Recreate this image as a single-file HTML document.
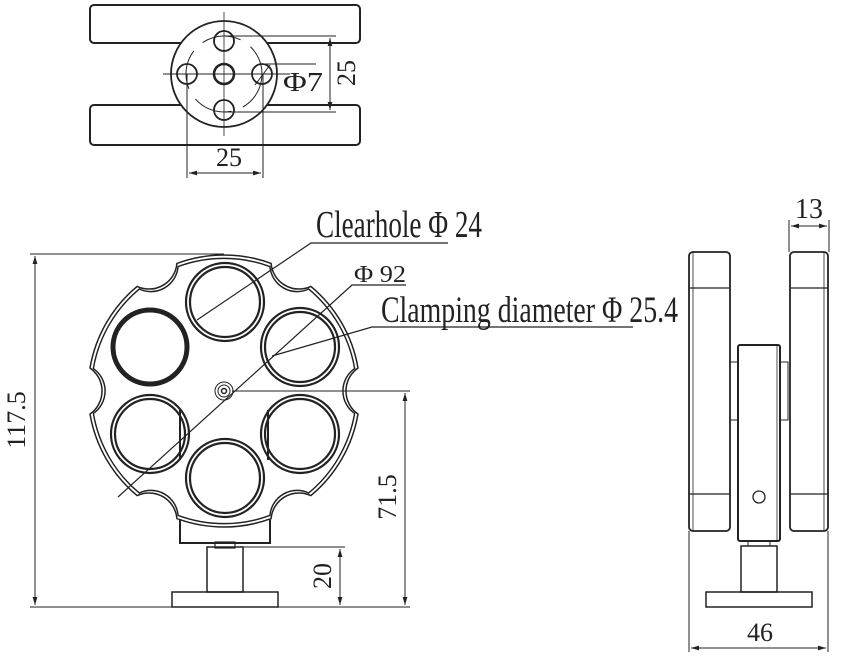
<!DOCTYPE html>
<html><head><meta charset="utf-8"><style>
html,body{margin:0;padding:0;background:#fff;}
svg{display:block;}
text{font-family:"Liberation Serif",serif;fill:#222;}
</style></head><body>
<svg width="842" height="657" viewBox="0 0 842 657" xmlns="http://www.w3.org/2000/svg">
<defs>
<marker id="a" viewBox="0 0 10 6" refX="10" refY="3" markerWidth="8" markerHeight="5" orient="auto-start-reverse"><path d="M0,0 L10,3 L0,6 z" fill="#222"/></marker>
</defs>
<g fill="none" stroke="#222" stroke-width="1.3">
<!-- TOP VIEW -->
<rect x="90" y="5" width="270" height="38" rx="4" stroke-width="2"/>
<rect x="90" y="105" width="270" height="40" rx="4" stroke-width="2"/>
<circle cx="224" cy="74" r="53" fill="#fff" stroke-width="1.8"/>
<circle cx="224" cy="74" r="38" stroke-width="1" stroke-dasharray="40 12"/>
<circle cx="224" cy="74" r="10" stroke-width="2.5"/>
<circle cx="224" cy="41" r="10" stroke-width="1.8"/>
<circle cx="224" cy="110" r="10" stroke-width="1.8"/>
<circle cx="187" cy="74" r="10" stroke-width="1.8"/>
<circle cx="262" cy="74" r="10" stroke-width="1.8"/>
<line x1="224" y1="12" x2="224" y2="136" stroke-width="0.8"/>
<line x1="163" y1="74" x2="290" y2="74" stroke-width="1"/>
<line x1="224" y1="36" x2="336" y2="36" stroke-width="1"/>
<line x1="224" y1="112" x2="336" y2="112" stroke-width="1"/>
<line x1="330" y1="38" x2="330" y2="110" stroke-width="1" marker-start="url(#a)" marker-end="url(#a)"/>
<line x1="262" y1="64" x2="316" y2="64" stroke-width="1"/>
<line x1="255" y1="85" x2="270" y2="65" stroke-width="1"/>
<line x1="187" y1="74" x2="187" y2="178" stroke-width="1"/>
<line x1="263" y1="74" x2="263" y2="178" stroke-width="1"/>
<line x1="189" y1="173" x2="261" y2="173" stroke-width="1" marker-start="url(#a)" marker-end="url(#a)"/>

<!-- FRONT VIEW -->
<rect x="180" y="515" width="90" height="28" stroke-width="2" fill="#fff"/>
<path id="ol" d="M358,368 A28,28 0 0 0 358,414 A136,136 0 0 1 310.9,495.6 A28,28 0 0 0 271.1,518.6 A136,136 0 0 1 176.9,518.6 A28,28 0 0 0 137.1,495.6 A136,136 0 0 1 90,414 A28,28 0 0 0 90,368 A136,136 0 0 1 137.1,286.4 A28,28 0 0 0 176.9,263.4 A136,136 0 0 1 271.1,263.4 A28,28 0 0 0 310.9,286.4 A136,136 0 0 1 358,368 Z" fill="#fff" stroke-width="1.5"/>
<use href="#ol" transform="translate(224,391) scale(0.975) translate(-224,-391)" stroke-width="1.2"/>
<g stroke-width="2.2">
<circle cx="225" cy="302" r="39"/><circle cx="225" cy="302" r="35"/>
<circle cx="300" cy="347" r="39"/><circle cx="300" cy="347" r="35"/>
<circle cx="150" cy="434" r="39"/><circle cx="150" cy="434" r="35"/>
<circle cx="300" cy="434" r="39"/><circle cx="300" cy="434" r="35"/>
<circle cx="225" cy="478" r="39"/><circle cx="225" cy="478" r="35"/>
</g>
<circle cx="150" cy="347" r="37" stroke-width="5"/>
<line x1="180" y1="410" x2="180" y2="460" stroke-width="2"/>
<line x1="268" y1="410" x2="268" y2="460" stroke-width="2"/>
<circle cx="224" cy="391" r="9" stroke-width="1"/>
<circle cx="224" cy="391" r="6" stroke-width="1"/>
<circle cx="224" cy="391" r="2.5" stroke-width="1.5"/>
<!-- leaders -->
<polyline points="197,320 311,243 448,243" stroke-width="1.2"/>
<polyline points="118,497 352,285 406,285" stroke-width="1.2"/>
<polyline points="272,356 372,327 633,327" stroke-width="1.2"/>
<!-- stand -->
<rect x="215" y="542" width="20" height="6" stroke-width="1.2"/>
<rect x="207" y="547" width="36" height="45" stroke-width="1.5"/>
<rect x="172" y="592" width="106" height="15" stroke-width="1.5"/>
<!-- dims -->
<line x1="30" y1="254" x2="224" y2="254" stroke-width="1"/>
<line x1="30" y1="607" x2="410" y2="607" stroke-width="1"/>
<line x1="35" y1="256" x2="35" y2="605" stroke-width="1" marker-start="url(#a)" marker-end="url(#a)"/>
<line x1="232" y1="391" x2="410" y2="391" stroke-width="1"/>
<line x1="405" y1="393" x2="405" y2="605" stroke-width="1" marker-start="url(#a)" marker-end="url(#a)"/>
<line x1="243" y1="547" x2="345" y2="547" stroke-width="1"/>
<line x1="340" y1="549" x2="340" y2="605" stroke-width="1" marker-start="url(#a)" marker-end="url(#a)"/>

<!-- SIDE VIEW -->
<rect x="689" y="252" width="41" height="279" rx="4" stroke-width="1.8"/>
<line x1="689" y1="288" x2="730" y2="288"/><line x1="689" y1="494" x2="730" y2="494"/>
<line x1="693" y1="252" x2="693" y2="531" stroke-width="0.8"/>
<rect x="790" y="252" width="38" height="279" rx="4" stroke-width="1.8"/>
<line x1="790" y1="288" x2="828" y2="288"/><line x1="790" y1="494" x2="828" y2="494"/>
<line x1="824" y1="252" x2="824" y2="531" stroke-width="0.8"/>
<rect x="730" y="362" width="8" height="58" stroke-width="1"/>
<rect x="780" y="362" width="8" height="58" stroke-width="1"/>
<rect x="738" y="345" width="42" height="196" rx="2" stroke-width="2"/>
<line x1="777" y1="345" x2="777" y2="541" stroke-width="0.8"/>
<circle cx="759" cy="497" r="6" stroke-width="1.3"/>
<rect x="748" y="541" width="22" height="5" stroke-width="1"/>
<rect x="741" y="546" width="36" height="46" stroke-width="1.5"/>
<rect x="706" y="592" width="106" height="15" stroke-width="1.5"/>
<line x1="689" y1="531" x2="689" y2="652" stroke-width="1"/>
<line x1="828" y1="531" x2="828" y2="652" stroke-width="1"/>
<line x1="691" y1="648" x2="826" y2="648" stroke-width="1" marker-start="url(#a)" marker-end="url(#a)"/>
<line x1="789" y1="220" x2="789" y2="252" stroke-width="1"/>
<line x1="829" y1="220" x2="829" y2="252" stroke-width="1"/>
<line x1="791" y1="226" x2="827" y2="226" stroke-width="1" marker-start="url(#a)" marker-end="url(#a)"/>
</g>

<!-- TEXT -->
<text x="283" y="91" font-size="27" textLength="40" lengthAdjust="spacingAndGlyphs">Φ7</text>
<text transform="translate(355,73) rotate(-90)" font-size="26" text-anchor="middle">25</text>
<text x="229" y="166" font-size="26" text-anchor="middle">25</text>
<text x="316" y="237" font-size="38" textLength="166" lengthAdjust="spacingAndGlyphs">Clearhole Φ 24</text>
<text x="354" y="282" font-size="24" textLength="52" lengthAdjust="spacingAndGlyphs">Φ 92</text>
<text x="381" y="322" font-size="37" textLength="297" lengthAdjust="spacingAndGlyphs">Clamping diameter Φ 25.4</text>
<text transform="translate(25,420) rotate(-90)" font-size="26" text-anchor="middle">117.5</text>
<text transform="translate(396,497) rotate(-90)" font-size="26" text-anchor="middle">71.5</text>
<text transform="translate(331,576) rotate(-90)" font-size="26" text-anchor="middle">20</text>
<text x="760" y="641" font-size="26" text-anchor="middle">46</text>
<text x="809" y="218" font-size="28" text-anchor="middle">13</text>
</svg>
</body></html>
